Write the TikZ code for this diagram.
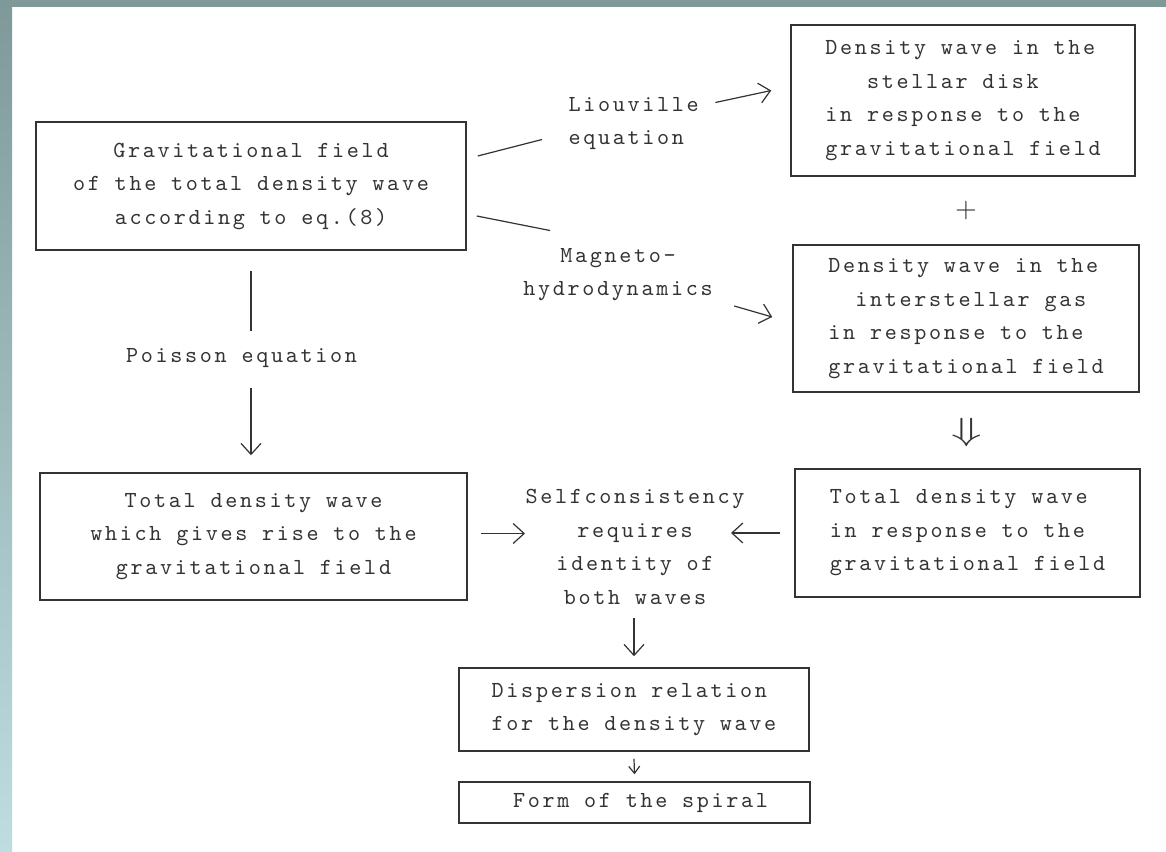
\documentclass[tikz,border=0pt]{standalone}
\usepackage{fontspec}
\usetikzlibrary{arrows.meta,positioning}
\definecolor{ink}{HTML}{333333}
\definecolor{framegrey}{HTML}{7F9999}
\definecolor{framecyan}{HTML}{BEDDE0}
\newfontfamily\typefamily[LetterSpace=11.7]{lmmono10-regular.otf}
\newcommand{\typed}{\typefamily\fontsize{23}{33.5}\selectfont}
\tikzset{
    panel/.style={
           rectangle,
           draw=ink,
           line width=1.5pt,
           inner sep=0pt,
           font=\typed,
           text=ink,
           },
    remark/.style={
           inner sep=0pt,
           font=\typed,
           text=ink,
           },
}

\begin{document}
\begin{tikzpicture}[
  x=1pt,y=-1pt,
  ->,>={Straight Barb[length=11pt,width=20pt]},
  color=ink,line width=1.2pt,
  small/.style={>={Straight Barb[length=7pt,width=11pt]}}]
\useasboundingbox (0,0) rectangle (1166,851);
\fill[white] (0,0) rectangle (1166,851);
\fill[framegrey] (0,0) rectangle (1166,7);
\shade[top color=framegrey,bottom color=framecyan] (0,0) rectangle (12,851);

\node[panel,minimum width=430,minimum height=128,align=center](gravfield) at (251,186)
  {Gravitational field\\of the total density wave\\according to eq.(8)};
\node[panel,minimum width=344,minimum height=151,align=left](stellardisk) at (963,100.5)
  {Density wave in the\\\phantom{sss}stellar disk\\in response to the\\gravitational field};
\node[panel,minimum width=346,minimum height=147,align=left](interstellar) at (966,318.5)
  {Density wave in the\\\phantom{ss}interstellar gas\\in response to the\\gravitational field};
\node[panel,minimum width=345,minimum height=128,align=left](responsewave) at (967.5,533)
  {Total density wave\\in response to the\\gravitational field};
\node[panel,minimum width=427,minimum height=127,align=center](sourcewave) at (253.5,536.5)
  {Total density wave\\which gives rise to the\\gravitational field};
\node[panel,minimum width=350,minimum height=83,align=left](dispersion) at (634,709.5)
  {Dispersion relation\\for the density wave};
\node[panel,minimum width=351,minimum height=41](spiral) at (634.5,802.5)
  {\phantom{s}Form of the spiral};

\node[remark,anchor=west,align=left](liouville) at (568,123.5) {Liouville\\equation};
\node[remark,align=center](magneto) at (618,274.5) {Magneto-\\hydrodynamics};
\node[remark](poisson) at (241.5,358) {Poisson equation};
\node[remark,align=center](selfcons) at (635,547)
  {Selfconsistency\\requires\\identity of\\both waves};
\node[scale=2.8](plus) at (966,210) {$+$};
\node[xscale=5,yscale=3.2](implies) at (967,432) {$\Downarrow$};

\path ([shift={(11,-30)}]gravfield.east) edge[-] ([shift={(-26,16)}]liouville.west)
      ([shift={(16,-21)}]liouville.east) edge ([shift={(-19,-10)}]stellardisk.west)
      ([shift={(10,30)}]gravfield.east) edge[-] ([shift={(-68,-17)}]magneto.north)
      ([shift={(21,31.5)}]magneto.east) edge ([shift={(-20,-1.5)}]interstellar.west)
      ([shift={(0,20)}]gravfield.south) edge[-] ([shift={(0,-17)}]gravfield.south |- poisson.north)
      ([shift={(0,20)}]gravfield.south |- poisson.south) edge ([shift={(0,-17)}]gravfield.south |- sourcewave.north)
      ([shift={(13,-3)}]sourcewave.east) edge ([shift={(0,-3)}]sourcewave.east -| selfcons.west)
      ([shift={(-14,0)}]responsewave.west) edge ([shift={(-14,0)}]responsewave.west -| selfcons.east)
      ([shift={(0,13)}]dispersion.north |- selfcons.south) edge ([shift={(0,-11)}]dispersion.north)
      ([shift={(0,7)}]dispersion.south) edge[small] ([shift={(0,-7)}]spiral.north);
\end{tikzpicture}
\end{document}
